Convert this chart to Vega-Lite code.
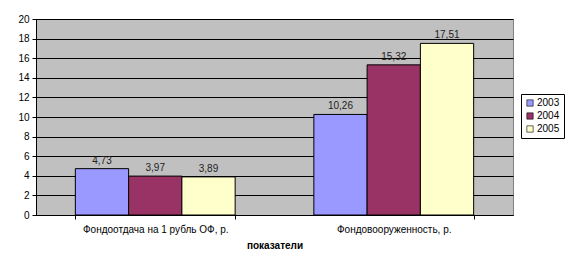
{
  "$schema": "https://vega.github.io/schema/vega-lite/v6.json",
  "width": 477,
  "height": 196,
  "autosize": {"type": "none"},
  "padding": {"left": 36, "top": 19, "right": 59, "bottom": 51},
  "background": "white",
  "data": {
    "values": [
      {"category": "Фондоотдача на 1 рубль ОФ, р.", "year": "2003", "value": 4.73},
      {"category": "Фондоотдача на 1 рубль ОФ, р.", "year": "2004", "value": 3.97},
      {"category": "Фондоотдача на 1 рубль ОФ, р.", "year": "2005", "value": 3.89},
      {"category": "Фондовооруженность, р.", "year": "2003", "value": 10.26},
      {"category": "Фондовооруженность, р.", "year": "2004", "value": 15.32},
      {"category": "Фондовооруженность, р.", "year": "2005", "value": 17.51}
    ]
  },
  "encoding": {
    "x": {
      "field": "category",
      "type": "nominal",
      "sort": null,
      "scale": {"paddingInner": 0.33, "paddingOuter": 0.165},
      "axis": {
        "title": "показатели",
        "titleFontWeight": "bold",
        "titleFontSize": 10,
        "titleColor": "black",
        "titlePadding": 6,
        "labelAngle": 0,
        "labelFontSize": 10,
        "labelColor": "black",
        "labelPadding": 5,
        "tickBand": "extent",
        "tickSize": 4,
        "tickColor": "black",
        "domainColor": "black"
      }
    },
    "xOffset": {"field": "year", "type": "nominal", "scale": {"paddingInner": 0, "paddingOuter": 0}},
    "y": {
      "field": "value",
      "type": "quantitative",
      "scale": {"domain": [0, 20], "nice": false},
      "axis": {
        "title": null,
        "values": [0, 2, 4, 6, 8, 10, 12, 14, 16, 18, 20],
        "grid": true,
        "gridColor": "black",
        "gridOpacity": 1,
        "domainColor": "black",
        "tickColor": "black",
        "tickSize": 4,
        "labelFontSize": 10,
        "labelColor": "black",
        "labelPadding": 3
      }
    }
  },
  "layer": [
    {
      "mark": {"type": "bar", "stroke": "black", "strokeWidth": 1},
      "encoding": {
        "color": {
          "field": "year",
          "type": "nominal",
          "scale": {"domain": ["2003", "2004", "2005"], "range": ["#9999FF", "#993366", "#FFFFCC"]},
          "legend": {
            "title": null,
            "orient": "none",
            "legendX": 485,
            "legendY": 75,
            "symbolType": "square",
            "symbolSize": 40,
            "symbolStrokeColor": "black",
            "symbolStrokeWidth": 0.6,
            "labelFontSize": 10,
            "labelColor": "black",
            "strokeColor": "black",
            "fillColor": "white",
            "padding": 4,
            "rowPadding": 3,
            "labelOffset": 2
          }
        }
      }
    },
    {
      "mark": {"type": "text", "baseline": "bottom", "dy": -3, "fontSize": 10, "color": "#222222"},
      "encoding": {
        "text": {"field": "value", "type": "quantitative", "format": ".2f"}
      }
    }
  ],
  "config": {
    "locale": {"number": {"decimal": ",", "thousands": " ", "grouping": [3], "currency": ["", ""]}},
    "font": "Liberation Sans",
    "view": {"fill": "#C0C0C0", "stroke": "#808080"}
  }
}
